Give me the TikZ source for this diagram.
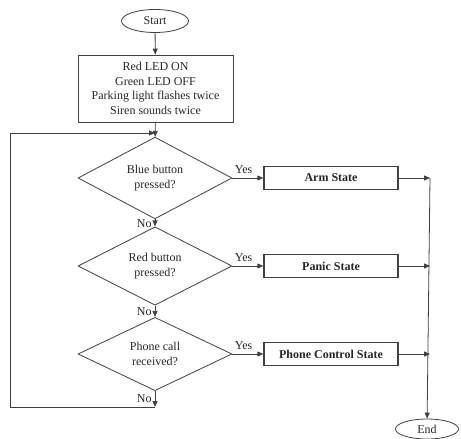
\documentclass[tikz,border=0pt]{standalone}
\usepackage{fontspec}
\setmainfont{Liberation Serif}
\usetikzlibrary{shapes.geometric,arrows.meta}
\begin{document}
\begin{tikzpicture}[x=1pt,y=-1pt,
  every node/.style={text=black!85,font=\fontsize{12}{14.5}\selectfont},
  ln/.style={draw=black!75,line width=0.8pt},
  arr/.style={ln,-{Triangle[length=6pt,width=5pt]}},
  term/.style={ellipse,ln,inner sep=0pt},
  proc/.style={rectangle,ln,align=center,inner sep=0pt},
  dec/.style={diamond,ln,align=center,inner sep=0pt,minimum width=154pt},
  st/.style={rectangle,draw=black!75,line width=1.3pt,inner sep=0pt,minimum width=134pt,minimum height=23pt,font=\fontsize{12}{14.5}\selectfont\bfseries},
  lbl/.style={inner sep=2pt}]
\useasboundingbox (0,0) rectangle (461,439);
\node[term,minimum width=67pt,minimum height=23pt] (start) at (155,21) {Start};
\node[proc,minimum width=155pt,minimum height=67pt] (init) at (155.5,88.5) {Red LED ON\\Green LED OFF\\Parking light flashes twice\\Siren sounds twice};
\coordinate (j) at (155,133);
\node[dec,minimum height=64pt] (d1) at (155,178) {Blue button\\pressed?};
\node[dec,minimum height=66pt] (d2) at (155,266) {Red button\\pressed?};
\node[dec,minimum height=66pt] (d3) at (155,354) {Phone call\\received?};
\node[st] (arm) at (331,178) {Arm State};
\node[st] (panic) at (331,266) {Panic State};
\node[st] (phone) at (331,354) {Phone Control State};
\coordinate (r1) at (430,178);
\coordinate (r2) at (430,266);
\coordinate (r3) at (430,354);
\node[term,minimum width=63pt,minimum height=20pt] (end) at (427,429) {End};
\coordinate (c1) at (155,407);
\coordinate (c2) at (10,407);
\coordinate (c3) at (10,133);

\draw[arr] (start) -- (init);
\draw[arr] (init) -- (d1);
\draw[arr] (d1) -- node[pos=0,above right,lbl,yshift=2pt] {Yes} (arm);
\draw[arr] (d2) -- node[pos=0,above right,lbl,yshift=2pt] {Yes} (panic);
\draw[arr] (d3) -- node[pos=0,above right,lbl,yshift=2pt] {Yes} (phone);
\draw[arr] (d1) -- node[pos=0.6,left,inner sep=3pt] {No} (d2);
\draw[arr] (d2) -- node[pos=0.55,left,inner sep=3pt] {No} (d3);
\draw[arr] (d3) -- node[pos=0.5,left,inner sep=3pt] {No} (c1);
\draw[arr] (c1) -- (c2) -- (c3) -- (j);
\draw[arr] (arm) -- (r1);
\draw[arr] (panic) -- (r2);
\draw[arr] (phone) -- (r3);
\draw[arr] (r1) -- (end);
\end{tikzpicture}
\end{document}
